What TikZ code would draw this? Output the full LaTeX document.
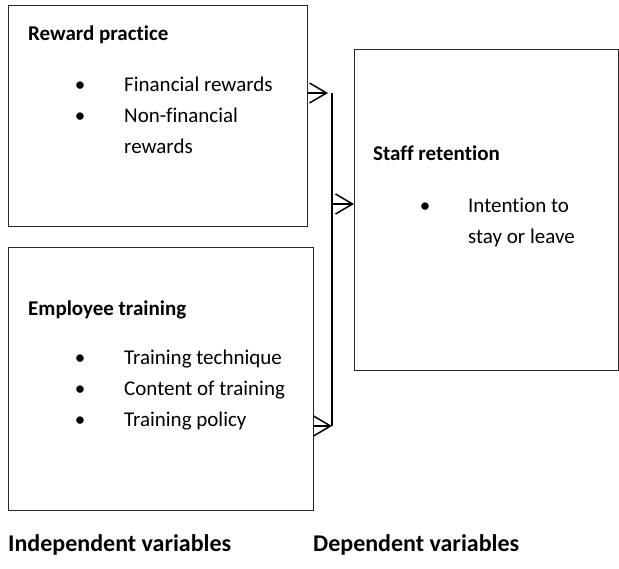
\documentclass[tikz,border=0pt]{standalone}
\usepackage{fontspec}
\setmainfont{Carlito}[Ligatures=NoCommon]
\usetikzlibrary{arrows.meta, positioning}
\colorlet{drawColor}{black!85}
\tikzstyle{box}=[rectangle, draw=drawColor, line width=0.9pt, anchor=north west, inner sep=0pt]
\tikzstyle{heading}=[anchor=base west, inner sep=0pt, font=\fontsize{21}{31}\selectfont\bfseries]
\tikzstyle{varLabel}=[anchor=base west, inner sep=0pt, font=\fontsize{24}{31}\selectfont\bfseries]
\tikzstyle{item}=[anchor=base west, inner sep=0pt, font=\fontsize{21}{31}\selectfont, align=left]
\tikzstyle{bullet}=[anchor=base, inner sep=0pt, font=\fontsize{21}{31}\selectfont]
\tikzstyle{arrow}=[-{Straight Barb[length=17pt, width=20pt, line width=1.5pt]}, line width=1.5pt, draw=black]
\tikzstyle{bus}=[line width=1.8pt, draw=black]

\begin{document}
\begin{tikzpicture}[x=1pt, y=-1pt]
    \useasboundingbox (0,0) rectangle (619,569);
    % boxes
    \node (reward) [box, minimum width=299pt, minimum height=221pt] at (8,5) {};
    \node (training) [box, minimum width=305pt, minimum height=263pt] at (8,247) {};
    \node (retention) [box, minimum width=264pt, minimum height=321pt] at (354,49) {};
    % reward practice (two-line items sit on their last baseline)
    \node (rewardTitle) [heading] at (28,41) {Reward practice};
    \node (rewardB1) [bullet] at (80,92) {\textbullet};
    \node (rewardI1) [item] at (124,92) {Financial rewards};
    \node (rewardB2) [bullet] at (80,123) {\textbullet};
    \node (rewardI2) [item] at (124,154) {Non-financial\\rewards};
    % employee training
    \node (trainingTitle) [heading] at (28,316) {Employee training};
    \node (trainingB1) [bullet] at (80,365) {\textbullet};
    \node (trainingI1) [item] at (124,365) {Training technique};
    \node (trainingB2) [bullet] at (80,396) {\textbullet};
    \node (trainingI2) [item] at (124,396) {Content of training};
    \node (trainingB3) [bullet] at (80,427) {\textbullet};
    \node (trainingI3) [item] at (124,427) {Training policy};
    % staff retention
    \node (retentionTitle) [heading] at (373,161) {Staff retention};
    \node (retentionB1) [bullet] at (425,213) {\textbullet};
    \node (retentionI1) [item] at (468,244) {Intention to\\stay or leave};
    % variable labels
    \node (indepLabel) [varLabel] at (8,551) {Independent variables};
    \node (depLabel) [varLabel] at (313,551) {Dependent variables};
    % connectors
    \coordinate (busTop) at (332,93);
    \coordinate (busMid) at (332,204);
    \coordinate (busBot) at (332,426);
    \draw[bus] (busTop) -- (busBot);
    \draw[arrow] (reward.east |- busTop) -- ([xshift=-4pt]busTop);
    \draw[arrow] (busMid) -- (busMid -| retention.west);
    \draw[arrow] (training.east |- busBot) -- (busBot);
\end{tikzpicture}
\end{document}
